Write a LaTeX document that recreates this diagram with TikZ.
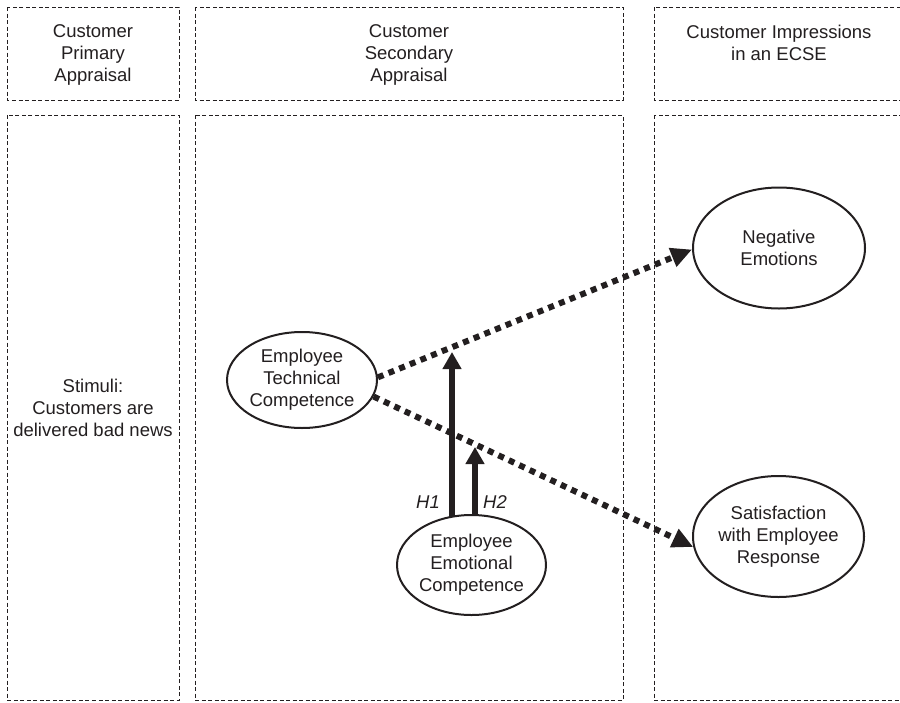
\documentclass[tikz,border=0pt]{standalone}
\usepackage{fontspec}
\setmainfont{Liberation Sans}
\usetikzlibrary{arrows.meta,shapes.geometric,backgrounds}
\definecolor{ink}{HTML}{231F20}
\begin{document}
\begin{tikzpicture}[x=1pt,y=-1pt,
  panel/.style={draw=ink, line width=0.8pt, dash pattern=on 4pt off 2.5pt},
  lbl/.style={text=ink, font=\fontsize{18.5}{22}\selectfont, align=center, inner sep=0pt},
  oval/.style={ellipse, draw=ink, line width=2pt, fill=white, inner sep=0pt, text=ink,
    font=\fontsize{18.5}{22}\selectfont, align=center},
  harrow/.style={draw=ink, line width=6pt, -{Triangle[length=17pt,width=18pt]}},
  darrow/.style={draw=ink, line width=6pt, dash pattern=on 6pt off 5.5pt, -{Triangle[length=21pt,width=19pt]}},
  hlbl/.style={text=ink, font=\fontsize{18.5}{22}\selectfont\itshape, inner sep=0pt}
]
\useasboundingbox (0,0) rectangle (900,702);
\clip (0,0) rectangle (900,702);

% panels
\draw[panel] (7.5,7) rectangle (179,100);
\draw[panel] (195,7) rectangle (623,100);
\draw[panel] (654,7) rectangle (915,100);
\draw[panel] (7.5,115) rectangle (179,700);
\draw[panel] (195,115) rectangle (623,700);
\draw[panel] (654,115) rectangle (915,700);

% headers
\node[lbl] (h1) at (93,54.5) {Customer\\Primary\\Appraisal};
\node[lbl] (h2) at (409,54.5) {Customer\\Secondary\\Appraisal};
\node[lbl] (h3) at (779,43) {Customer Impressions\\in an ECSE};

% stimuli
\node[lbl] (stim) at (93,407.5) {Stimuli:\\Customers are\\delivered bad news};

% ellipses
\node[oval, minimum width=150pt, minimum height=96pt] (tech) at (302,380) {Employee\\Technical\\Competence};
\node[oval, minimum width=149pt, minimum height=100pt] (emo) at (471.5,565) {Employee\\Emotional\\Competence};
\node[oval, minimum width=172pt, minimum height=121pt] (neg) at (779,248) {Negative\\Emotions};
\node[oval, minimum width=171pt, minimum height=121pt] (sat) at (778.5,536.5) {Satisfaction\\with Employee\\Response};

% H arrows
\coordinate (h1tip) at (452,352);
\coordinate (h2tip) at (475,447);
\begin{scope}[on background layer]
\draw[harrow] (h1tip |- emo.center) -- (h1tip);
\draw[harrow] (h2tip |- emo.center) -- (h2tip);
\end{scope}
\node[hlbl] (lh1) at (428,502) {H1};
\node[hlbl] (lh2) at (495,502) {H2};

% dotted arrows
\draw[darrow] (tech.2) -- (neg.181);
\draw[darrow] (tech.-13) -- (sat.187);
\end{tikzpicture}
\end{document}
